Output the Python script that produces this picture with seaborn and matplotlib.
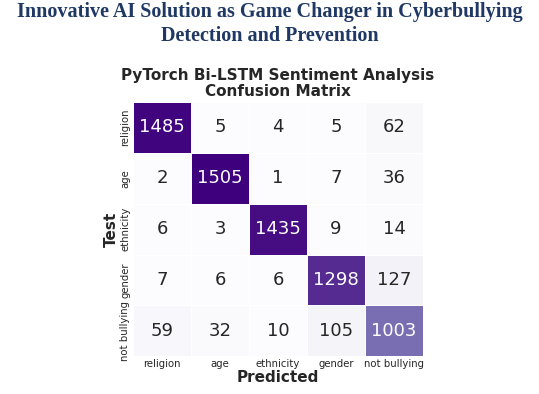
import numpy as np
import pandas as pd
import matplotlib
matplotlib.use("Agg")
import matplotlib.pyplot as plt
import seaborn as sns

# Confusion matrix values (rows = Test, cols = Predicted)
labels = ['religion', 'age', 'ethnicity', 'gender', 'not bullying']
row_religion = [1485, 5, 4, 5, 62]
row_age = [2, 1505, 1, 7, 36]
row_ethnicity = [6, 3, 1435, 9, 14]
row_gender = [7, 6, 6, 1298, 127]
row_not_bullying = [59, 32, 10, 105, 1003]

cm = pd.DataFrame([row_religion, row_age, row_ethnicity, row_gender, row_not_bullying],
                  index=labels, columns=labels)

sns.set_theme(style="white")

fig = plt.figure(figsize=[5.39, 3.94], dpi=100)
ax = fig.add_axes([0.247, 0.096, 0.538, 0.645])

sns.heatmap(cm, annot=True, fmt='d', cmap='Purples', cbar=False,
            linewidths=0.5, linecolor='white',
            annot_kws={'fontsize': 13}, ax=ax)

ax.set_title('PyTorch Bi-LSTM Sentiment Analysis\nConfusion Matrix',
             fontsize=11, fontweight='bold', linespacing=1.1, pad=4)
ax.set_xlabel('Predicted', fontsize=11, fontweight='bold', labelpad=1)
ax.set_ylabel('Test', fontsize=11, fontweight='bold', labelpad=1)
ax.tick_params(axis='both', which='major', labelsize=7.3, length=0, pad=2)
plt.setp(ax.get_xticklabels(), rotation=0, ha='center')
plt.setp(ax.get_yticklabels(), rotation=90, va='center')

fig.suptitle('Innovative AI Solution as Game Changer in Cyberbullying\nDetection and Prevention',
             fontsize=14.5, fontweight='bold', family='Liberation Serif',
             color='#1f3864', y=0.995, linespacing=1.3)

fig.savefig('out.png', dpi=100)
